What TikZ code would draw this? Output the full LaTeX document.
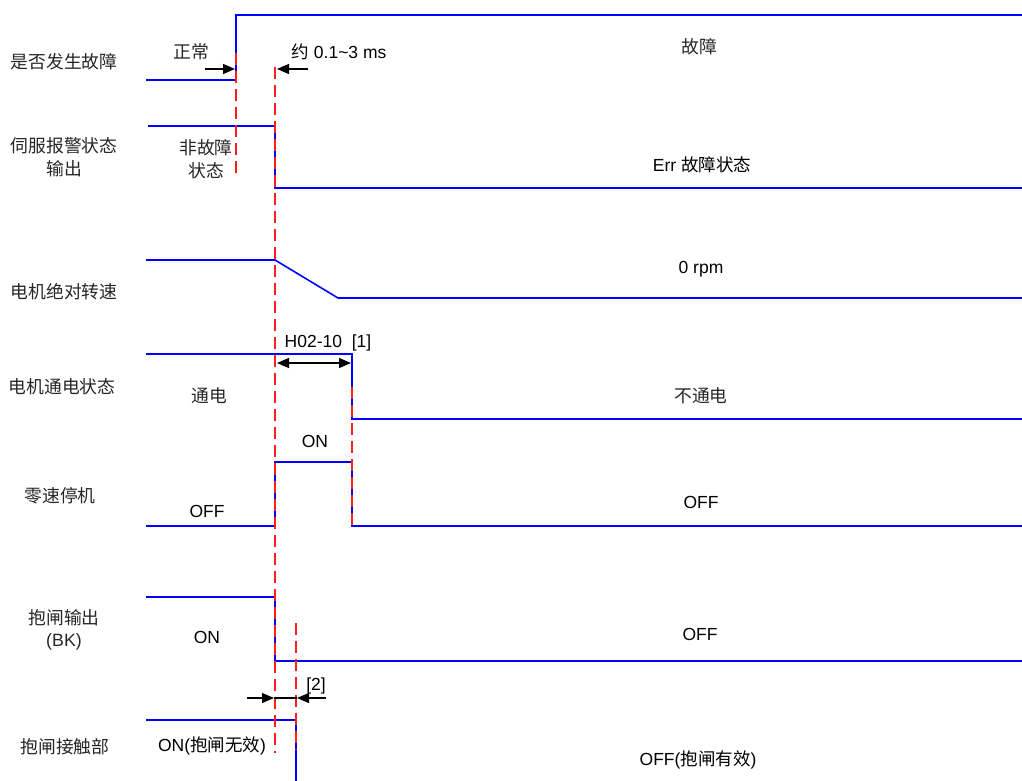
\documentclass[tikz,border=0pt]{standalone}
\usepackage{fontspec}
\setmainfont{Liberation Sans}
\newfontfamily\cjk{Noto Sans CJK SC}
\usetikzlibrary{arrows.meta}
\begin{document}
\begin{tikzpicture}[x=1pt,y=-1pt,
  sig/.style={draw={rgb,255:red,0;green,0;blue,255}, line width=1.6pt},
  reddash/.style={draw={rgb,255:red,255;green,30;blue,30}, line width=1.7pt, dash pattern=on 12pt off 6pt},
  arr/.style={draw=black, line width=1.3pt, -{Triangle[length=12pt,width=10pt]}},
  darr/.style={draw=black, line width=1.3pt, {Triangle[length=12pt,width=10pt]}-{Triangle[length=12pt,width=10pt]}},
  lbl/.style={font=\fontsize{17.8}{21}\selectfont, text=black!85, inner sep=0pt, align=center},
  tlbl/.style={font=\fontsize{17.5}{21}\selectfont, text=black, inner sep=0pt, align=center}]
\useasboundingbox (0,0) rectangle (1022,781);

% ---------- signal names ----------
\node[lbl] (n1) at (64,62) {\cjk 是否发生故障};
\node[lbl] (n2) at (64,157) {\cjk 伺服报警状态\\[2pt]\cjk 输出};
\node[lbl] (n3) at (64,292) {\cjk 电机绝对转速};
\node[lbl] (n4) at (62,387) {\cjk 电机通电状态};
\node[lbl] (n5) at (60,496) {\cjk 零速停机};
\node[lbl] (n6) at (64,630) {\cjk 抱闸输出\\[1pt](BK)};
\node[lbl] (n7) at (65,747) {\cjk 抱闸接触部};

% ---------- coordinates ----------
\coordinate (a0) at (146,80);  \coordinate (a1) at (236,80);
\coordinate (a2) at (236,15);  \coordinate (a3) at (1022,15);
\coordinate (b0) at (148,126); \coordinate (b1) at (275,126);
\coordinate (b2) at (275,188); \coordinate (b3) at (1022,188);
\coordinate (c0) at (146,260); \coordinate (c1) at (275,260);
\coordinate (c2) at (338,298); \coordinate (c3) at (1022,298);
\coordinate (d0) at (146,354); \coordinate (d1) at (352,354);
\coordinate (d2) at (352,419); \coordinate (d3) at (1022,419);
\coordinate (e0) at (146,526); \coordinate (e1) at (275,526);
\coordinate (e2) at (275,462); \coordinate (e3) at (352,462);
\coordinate (e4) at (352,526); \coordinate (e5) at (1022,526);
\coordinate (f0) at (146,597); \coordinate (f1) at (275,597);
\coordinate (f2) at (275,661); \coordinate (f3) at (1022,661);
\coordinate (g0) at (146,720); \coordinate (g1) at (296,720);
\coordinate (g2) at (296,781);

% ---------- waveforms ----------
\draw[sig] (a0) -- (a1) -- (a2) -- (a3);
\draw[sig] (b0) -- (b1) -- (b2) -- (b3);
\draw[sig] (c0) -- (c1) -- (c2) -- (c3);
\draw[sig] (d0) -- (d1) -- (d2) -- (d3);
\draw[sig] (e0) -- (e1) -- (e2) -- (e3) -- (e4) -- (e5);
\draw[sig] (f0) -- (f1) -- (f2) -- (f3);
\draw[sig] (g0) -- (g1) -- (g2);

% ---------- red dashed markers ----------
\coordinate (r1a) at (236,53);  \coordinate (r1b) at (236,177);
\coordinate (r2a) at (275,67);  \coordinate (r2b) at (275,753);
\coordinate (r3a) at (352,387); \coordinate (r3b) at (352,527);
\coordinate (r4a) at (296,623); \coordinate (r4b) at (296,750);
\draw[reddash] (r1a) -- (r1b);
\draw[reddash] (r2a) -- (r2b);
\draw[reddash] (r3a) -- (r3b);
\draw[reddash] (r4a) -- (r4b);

% ---------- timing arrows ----------
\coordinate (p1) at (205,69); \coordinate (p1e) at (235,69);
\draw[arr] (p1) -- (p1e);
\coordinate (p2) at (308,69); \coordinate (p2e) at (277,69);
\draw[arr] (p2) -- (p2e);
\coordinate (h1) at (277,363); \coordinate (h2) at (351,363);
\draw[darr] (h1) -- (h2);
\coordinate (k0) at (247,698); \coordinate (k1) at (274,698);
\coordinate (k2) at (297,698); \coordinate (k3) at (326,698);
\draw[arr] (k0) -- (k1);
\draw[arr] (k3) -- (k2);
\draw[draw=black, line width=1.3pt] (k1) -- (k2);

% ---------- state labels ----------
\node[lbl] (t1) at (191,52) {\cjk 正常};
\node[tlbl] (t2) at (339,52) {{\cjk 约} 0.1\textasciitilde3 ms};
\node[lbl] (t3) at (699,47) {\cjk 故障};
\node[lbl] (t4) at (206,159) {\cjk 非故障\\[2pt]\cjk 状态};
\node[tlbl] (t5) at (702,165) {Err {\cjk 故障状态}};
\node[tlbl] (t6) at (701,269) {0 rpm};
\node[tlbl] (t7) at (328,343) {H02-10\ \ [1]};
\node[lbl] (t8) at (209,396) {\cjk 通电};
\node[lbl] (t9) at (701,396) {\cjk 不通电};
\node[tlbl] (t10) at (315,441) {ON};
\node[tlbl] (t11) at (207,511) {OFF};
\node[tlbl] (t12) at (701,502) {OFF};
\node[tlbl] (t13) at (207,637) {ON};
\node[tlbl] (t14) at (700,634) {OFF};
\node[tlbl] (t15) at (316,686) {[2]};
\node[tlbl] (t16) at (212,746) {ON({\cjk 抱闸无效})};
\node[tlbl] (t17) at (698,760) {OFF({\cjk 抱闸有效})};
\end{tikzpicture}
\end{document}
